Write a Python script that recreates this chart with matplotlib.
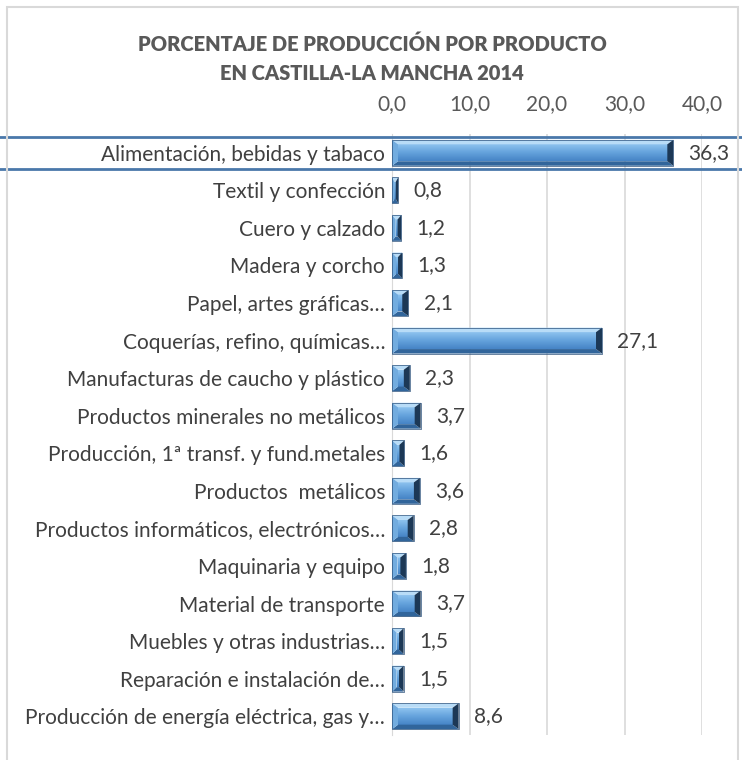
#!/usr/bin/env python3

import numpy as np
import matplotlib
matplotlib.use('Agg')
import matplotlib.pyplot as plt
from matplotlib.patches import Polygon, Rectangle
from matplotlib.transforms import blended_transform_factory

plt.rcParams['font.family'] = ['Lato', 'DejaVu Sans']

categories = [
    'Alimentación, bebidas y tabaco',
    'Textil y confección',
    'Cuero y calzado',
    'Madera y corcho',
    'Papel, artes gráficas…',
    'Coquerías, refino, químicas…',
    'Manufacturas de caucho y plástico',
    'Productos minerales no metálicos',
    'Producción, 1ª transf. y fund.metales',
    'Productos  metálicos',
    'Productos informáticos, electrónicos…',
    'Maquinaria y equipo',
    'Material de transporte',
    'Muebles y otras industrias…',
    'Reparación e instalación de…',
    'Producción de energía eléctrica, gas y…',
]
values = [36.3, 0.8, 1.2, 1.3, 2.1, 27.1, 2.3, 3.7, 1.6, 3.6, 2.8, 1.8, 3.7, 1.5, 1.5, 8.6]
ticks = [0, 10, 20, 30, 40]

W, H = 742, 760
fig = plt.figure(figsize=(W / 100, H / 100), dpi=100)

# plot area in pixels
px0, px1 = 392, 702
py0, py1 = 134, 735
ax = fig.add_axes([px0 / W, 1 - py1 / H, (px1 - px0) / W, (py1 - py0) / H])

n = len(values)
xmax = 40
bar_h = 0.69
# bevel size in data units (a few pixels)
ux = xmax / (px1 - px0)
uy = n / (py1 - py0)
bev_x = 6 * ux
bev_y = 4.5 * uy

face_cmap = matplotlib.colors.LinearSegmentedColormap.from_list(
    'face', ['#8cc2ee', '#64a2dc', '#4684c6'])
grad = np.linspace(0, 1, 32).reshape(-1, 1)

for i, v in enumerate(values):
    y0, y1 = i - bar_h / 2, i + bar_h / 2
    bx = min(bev_x, v / 2.5)
    by = bev_y
    # centre face with vertical gradient
    ax.imshow(grad, cmap=face_cmap, aspect='auto', interpolation='bilinear',
              extent=(bx, v - bx, y1 - by, y0 + by), zorder=3)
    top = [(0, y0), (v, y0), (v - bx, y0 + by), (bx, y0 + by)]
    bot = [(0, y1), (v, y1), (v - bx, y1 - by), (bx, y1 - by)]
    left = [(0, y0), (bx, y0 + by), (bx, y1 - by), (0, y1)]
    right = [(v, y0), (v - bx, y0 + by), (v - bx, y1 - by), (v, y1)]
    ax.add_patch(Polygon(top, closed=True, fc='#b8dcf7', ec='none', zorder=4))
    ax.add_patch(Polygon(bot, closed=True, fc='#31659b', ec='none', zorder=4))
    ax.add_patch(Polygon(left, closed=True, fc='#72acdf', ec='none', zorder=4))
    ax.add_patch(Polygon(right, closed=True, fc='#1c3856', ec='none', zorder=4))
    ax.add_patch(Rectangle((0, y0), v, bar_h, fill=False, ec='#2c527c', lw=0.5, zorder=5))
    ax.annotate(f'{v:.1f}'.replace('.', ','), (v, i), xytext=(11, 0),
                textcoords='offset points', va='center', ha='left',
                fontsize=15, color='#404040')

ax.set_xlim(0, xmax)
ax.set_ylim(n - 0.5, -0.5)
ax.set_xticks(ticks)
ax.set_xticklabels([f'{t:.1f}'.replace('.', ',') for t in ticks])
ax.xaxis.tick_top()
ax.set_yticks(range(n))
ax.set_yticklabels(categories)
ax.tick_params(length=0, labelsize=15, labelcolor='#404040')
ax.tick_params(axis='x', pad=14, labelcolor='#595959')
ax.tick_params(axis='y', pad=5)
ax.grid(axis='x', color='#d9d9d9', lw=1.2, zorder=0)
ax.set_axisbelow(True)
for s in ax.spines.values():
    s.set_visible(False)
ax.spines['left'].set_visible(True)
ax.spines['left'].set_color('#d9d9d9')

# highlight lines around the first row, across the whole chart
tr = blended_transform_factory(fig.transFigure, ax.transData)
for yl in (-0.42, 0.42):
    ax.plot([0, 1], [yl, yl], transform=tr, color='#4a78aa', lw=2, clip_on=False, zorder=6)

# chart frame
fig.patches.append(Rectangle((7 / W, -0.05), (738 - 7) / W, 1.05 - 7 / H,
                             transform=fig.transFigure, fill=False,
                             ec='#d9d9d9', lw=1.5))

fig.text(372 / W, 1 - 44 / H, 'PORCENTAJE DE PRODUCCIÓN POR PRODUCTO',
         ha='center', va='center', fontsize=14.5, fontweight='heavy', color='#595959')
fig.text(372 / W, 1 - 73 / H, 'EN CASTILLA-LA MANCHA 2014',
         ha='center', va='center', fontsize=14.5, fontweight='heavy', color='#595959')

plt.savefig('out.png', dpi=100)
